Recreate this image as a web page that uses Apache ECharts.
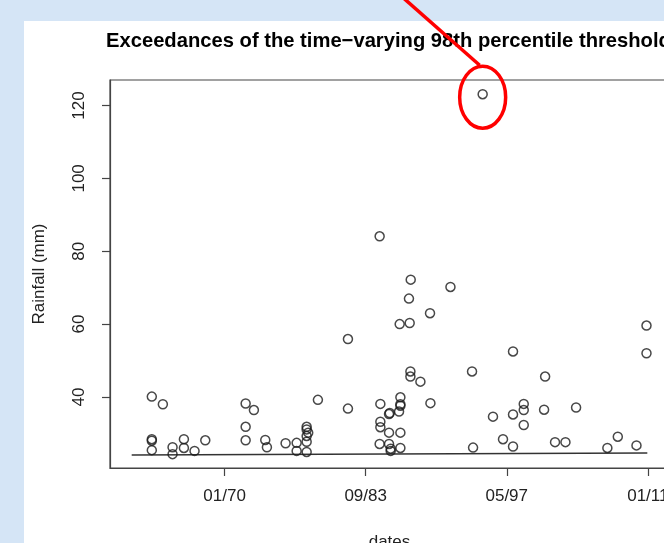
<!DOCTYPE html>
<html>
<head>
<meta charset="utf-8">
<script src="https://cdn.jsdelivr.net/npm/echarts@6/dist/echarts.min.js"></script>
<style>
html, body { margin: 0; padding: 0; background: #d3e3f5; }
#chart { width: 664px; height: 543px; }
</style>
</head>
<body>
<div id="chart"></div>
<script>
// exceedance dates (decimal years) and rainfall (mm)
var dates = [
  1962.95, 1964.02, 1962.95, 1962.95, 1962.95, 1964.96, 1964.96, 1966.06, 1966.06, 1967.09,
  1968.13, 1972.04, 1972.84, 1972.04, 1972.04, 1973.94, 1974.10, 1975.91, 1976.98, 1976.98,
  1977.95, 1977.95, 1978.10, 1977.95, 1977.95, 1977.95, 1979.04, 1981.95, 1981.95, 1985.09,
  1985.09, 1985.09, 1985.02, 1985.02, 1985.93, 1986.00, 1985.93, 1985.93, 1986.09, 1986.09,
  1987.03, 1987.03, 1987.03, 1986.90, 1987.03, 1987.03, 1986.96, 1987.93, 1988.03, 1987.86,
  1988.00, 1988.00, 1988.97, 1989.90, 1989.94, 1991.88, 1993.97, 1994.07, 1995.00, 1996.00,
  1996.97, 1997.94, 1997.94, 1997.94, 1998.98, 1998.98, 1998.98, 2001.05, 2000.95, 2002.01,
  2003.02, 2004.05, 2007.08, 2008.09, 2009.90, 2010.87, 2010.87
];
var rainfall = [
  40.1, 38.0, 28.4, 28.0, 25.4, 26.2, 24.3, 28.4, 26.0, 25.2,
  28.1, 38.2, 36.4, 31.8, 28.1, 28.2, 26.2, 27.3, 27.4, 25.2,
  31.8, 31.1, 30.2, 29.3, 27.7, 24.9, 39.2, 36.8, 55.9, 38.1,
  33.2, 31.7, 27.1, 84.1, 35.3, 35.6, 30.2, 27.1, 25.8, 25.2,
  39.9, 37.6, 38.0, 36.0, 30.2, 26.0, 60.0, 60.3, 72.2, 67.0,
  47.0, 45.6, 44.2, 63.0, 38.3, 70.2, 47.0, 26.1, 123.1, 34.6,
  28.4, 52.5, 35.2, 26.4, 38.1, 36.4, 32.3, 45.6, 36.5, 27.6,
  27.6, 37.1, 26.0, 29.1, 26.7, 59.6, 52.0
];
// 98th percentile threshold
var thresholdDates = [1961.0, 2010.95];
var thresholdValues = [24.1, 24.6];

var xTicks = [1970, 1983 + 8 / 12, 1997 + 4 / 12, 2011];
var yTicks = [40, 60, 80, 100, 120];

var font = "'Liberation Sans', Arial, sans-serif";

function fmtDate(v) {
  var y = Math.floor(v + 1e-6);
  var m = Math.round((v - y) * 12) + 1;
  var yy = y % 100;
  return (m < 10 ? '0' + m : m) + '/' + (yy < 10 ? '0' + yy : yy);
}

var points = [];
for (var i = 0; i < dates.length; i++) points.push([dates[i], rainfall[i]]);
var thrLine = [];
for (var j = 0; j < thresholdDates.length; j++) thrLine.push([thresholdDates[j], thresholdValues[j]]);

var myChart = echarts.init(document.getElementById('chart'));
var option = {
  backgroundColor: '#d5e5f6',
  animation: false,
  title: {
    text: 'Exceedances of the time\u2212varying 98th percentile threshold',
    left: 101,
    top: 26,
    textStyle: { color: '#000', fontFamily: font, fontWeight: 'bold', fontSize: 20.2 }
  },
  grid: {
    left: 110, top: 80, width: 559, height: 388,
    outerBoundsMode: 'none',
    containLabel: false,
    show: true, borderColor: '#444', borderWidth: 1.2, backgroundColor: 'transparent'
  },
  xAxis: {
    type: 'value',
    min: 1958.9, max: 2013.05,
    name: 'dates',
    nameLocation: 'middle',
    nameGap: 66,
    nameTextStyle: { color: '#222', fontFamily: font, fontSize: 17 },
    splitLine: { show: false },
    axisLine: { show: true, onZero: false, lineStyle: { color: '#444', width: 1.2 } },
    axisTick: { show: true, length: 8, customValues: xTicks, lineStyle: { color: '#444', width: 1.2 } },
    axisLabel: { customValues: xTicks, margin: 20, color: '#222', fontFamily: font, fontSize: 17, formatter: fmtDate }
  },
  yAxis: {
    type: 'value',
    min: 20.5, max: 127,
    name: 'Rainfall (mm)',
    nameLocation: 'middle',
    nameGap: 62,
    nameTextStyle: { color: '#222', fontFamily: font, fontSize: 17 },
    splitLine: { show: false },
    axisLine: { show: true, lineStyle: { color: '#444', width: 1.2 } },
    axisTick: { show: true, length: 8, customValues: yTicks, lineStyle: { color: '#444', width: 1.2 } },
    axisLabel: { customValues: yTicks, rotate: 90, margin: 22, color: '#222', fontFamily: font, fontSize: 17 }
  },
  graphic: [
    { type: 'rect', z: -10, shape: { x: 24, y: 21, width: 660, height: 540 }, style: { fill: '#fff' } }
  ],
  series: [
    {
      type: 'line',
      data: thrLine,
      symbol: 'none',
      lineStyle: { color: '#333', width: 1.5 },
      z: 1
    },
    {
      type: 'scatter',
      data: points,
      symbol: 'circle',
      symbolSize: 9,
      itemStyle: { color: 'rgba(0,0,0,0)', borderColor: '#1a1a1a', borderWidth: 1.5 },
      z: 2
    }
  ]
};
myChart.setOption(option);

// red annotation around the largest exceedance
var maxIdx = 0;
for (var k = 1; k < rainfall.length; k++) if (rainfall[k] > rainfall[maxIdx]) maxIdx = k;
var p = myChart.convertToPixel({ gridIndex: 0 }, [dates[maxIdx], rainfall[maxIdx]]);
myChart.setOption({
  graphic: [
    { type: 'rect', z: -10, shape: { x: 24, y: 21, width: 660, height: 540 }, style: { fill: '#fff' } },
    { type: 'ellipse', z: 100, shape: { cx: p[0], cy: p[1] + 3, rx: 23, ry: 31 },
      style: { fill: 'none', stroke: '#f00', lineWidth: 3.5 } },
    { type: 'line', z: 100, shape: { x1: p[0] - 79, y1: p[1] - 96, x2: p[0] - 3, y2: p[1] - 29 },
      style: { stroke: '#f00', lineWidth: 3.5 } }
  ]
});

window.addEventListener('resize', function () { myChart.resize(); });
</script>
</body>
</html>
